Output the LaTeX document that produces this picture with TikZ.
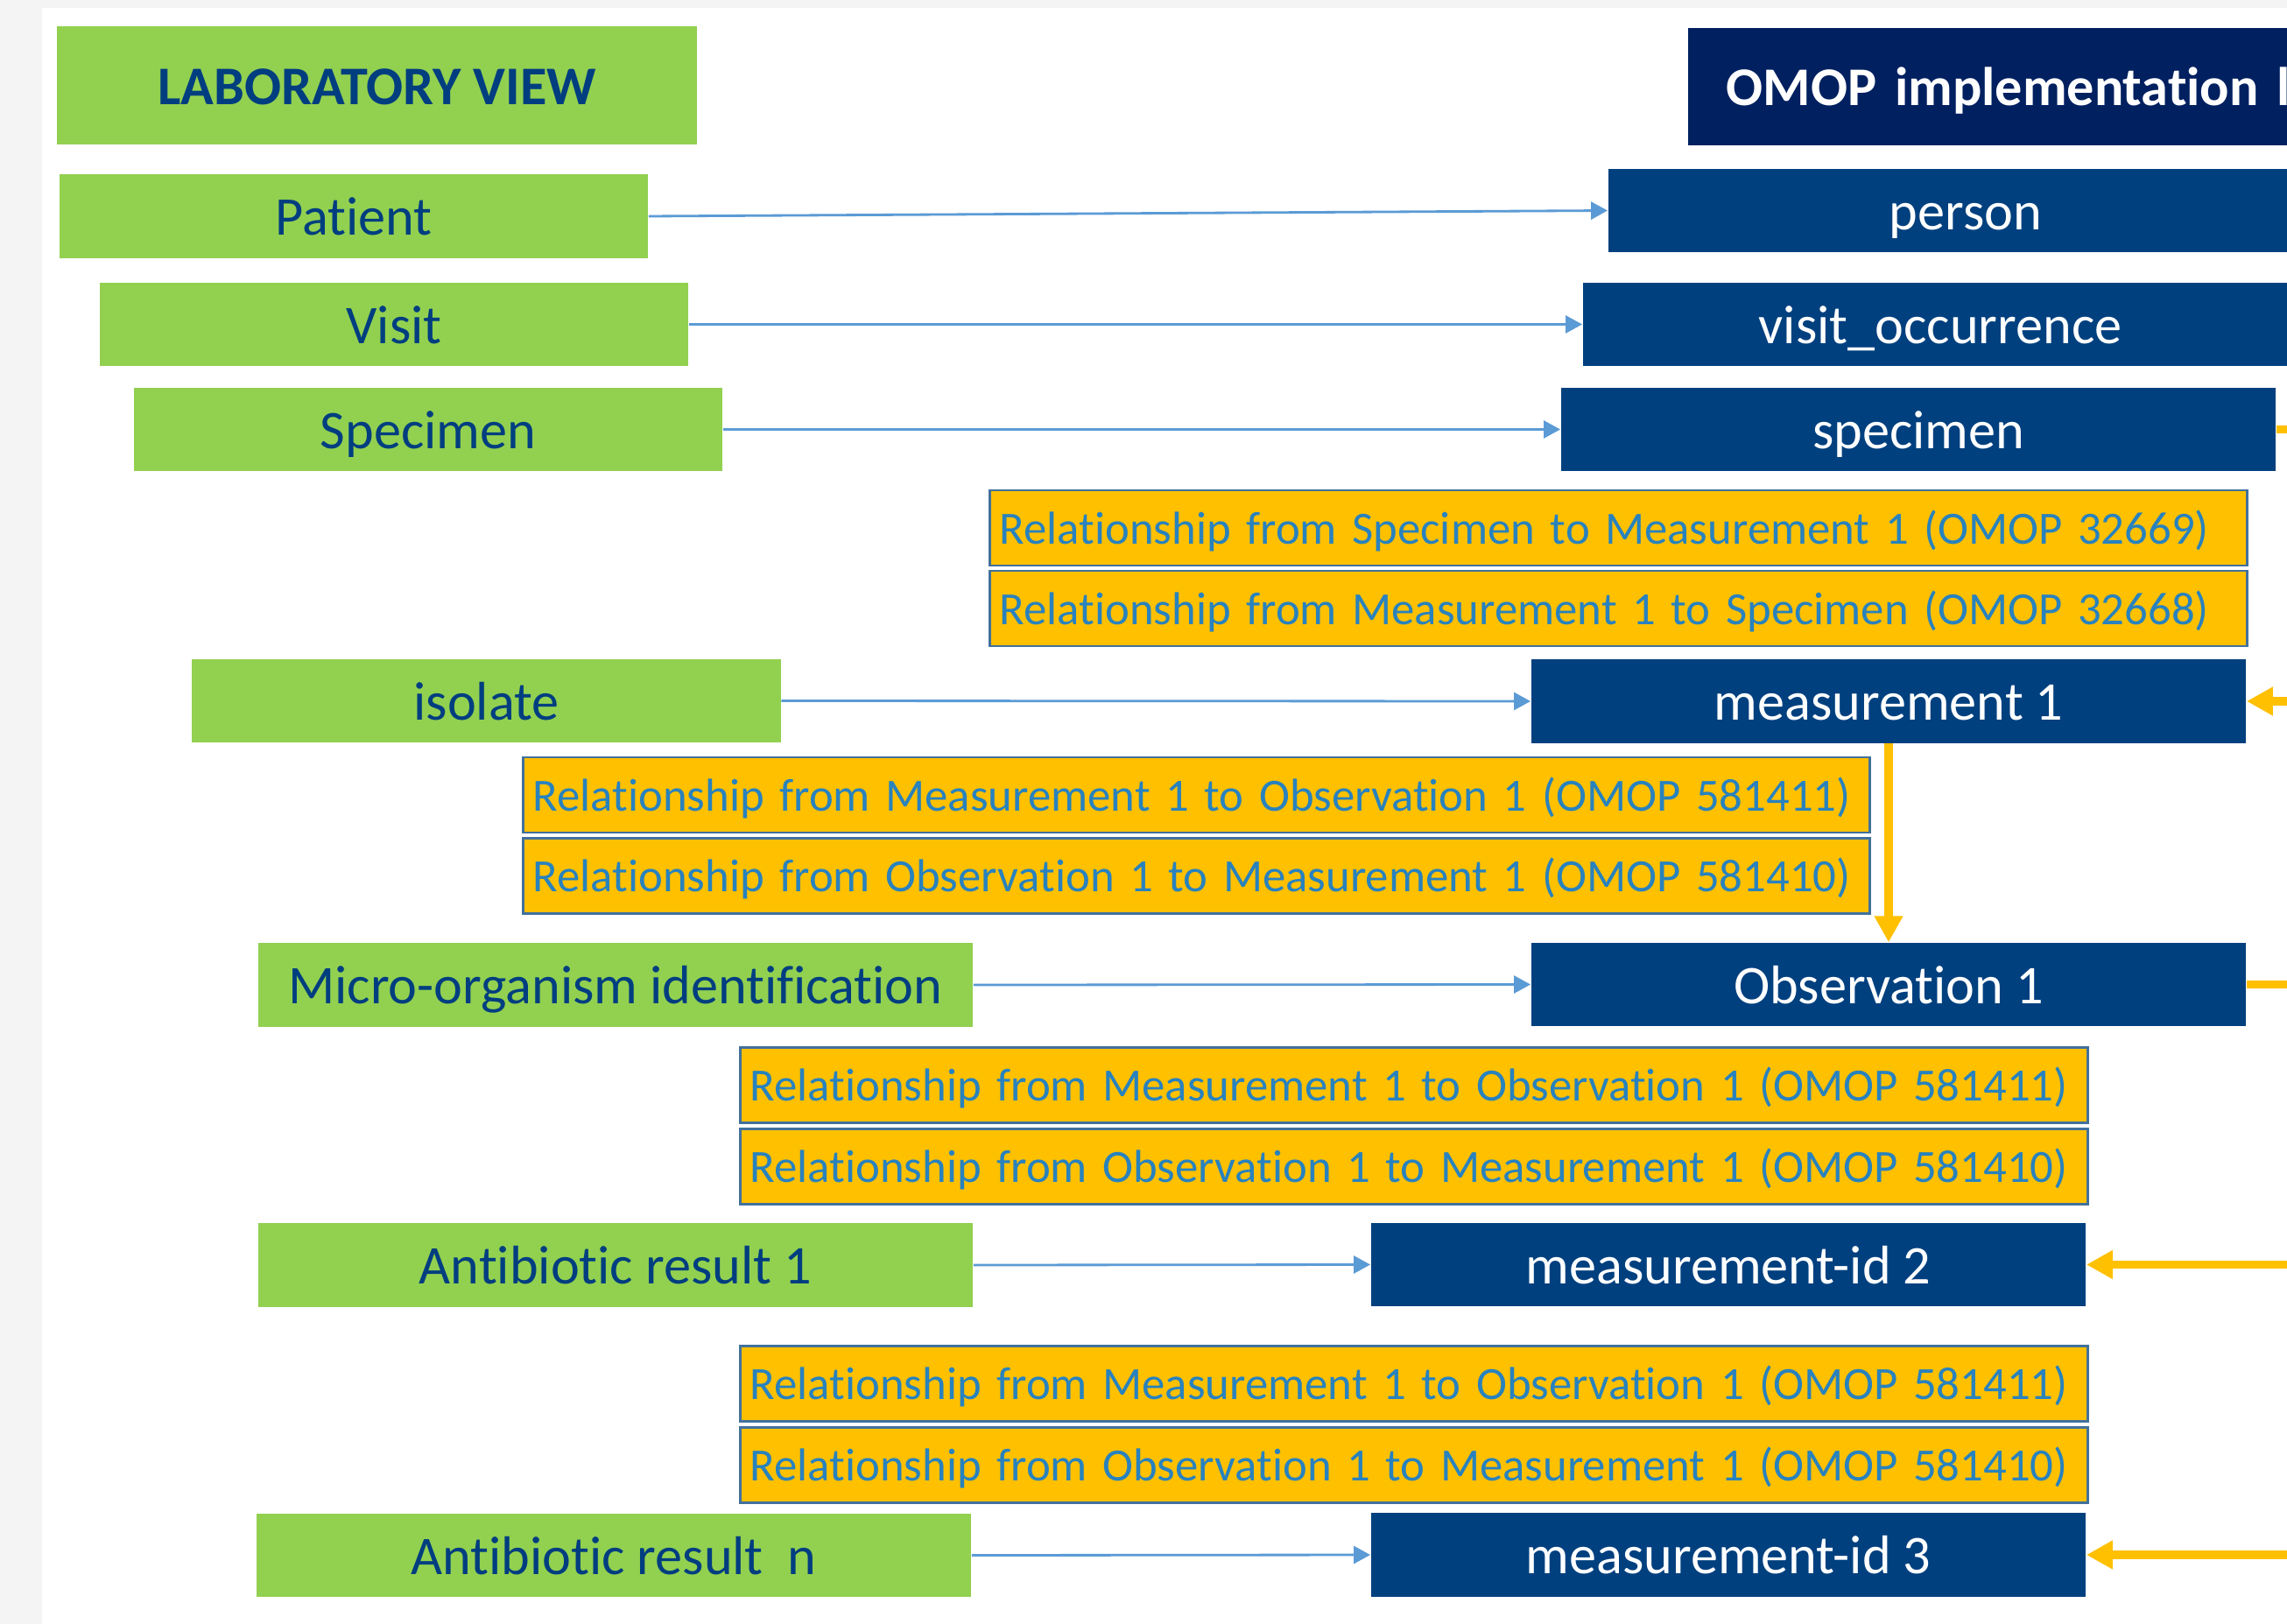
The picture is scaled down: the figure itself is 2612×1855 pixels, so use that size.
\documentclass[tikz,border=0pt]{standalone}
\usepackage{fontspec}
\setmainfont{Carlito}[Ligatures=NoCommon]
\usetikzlibrary{arrows.meta}

\definecolor{labgreen}{HTML}{92D050}
\definecolor{labtext}{HTML}{003E80}
\definecolor{omopblue}{HTML}{00407F}
\definecolor{omopnavy}{HTML}{002060}
\definecolor{relyellow}{HTML}{FFC000}
\definecolor{relborder}{HTML}{41719C}
\definecolor{reltext}{HTML}{2882BE}
\definecolor{mapblue}{HTML}{5B9BD5}
\definecolor{pagegray}{HTML}{F4F4F4}

\tikzset{
    bigfont/.style={font=\fontsize{17.7}{20}\selectfont},
    labbox/.style={rectangle, fill=labgreen, text=labtext, inner sep=0pt,
        minimum width=67.2mm, minimum height=9.5mm, text height=4.3mm,
        text depth=0pt, bigfont},
    omopbox/.style={rectangle, fill=omopblue, text=white, inner sep=0pt,
        minimum width=81.6mm, minimum height=9.5mm, text height=4.3mm,
        text depth=0pt, bigfont},
    relbox/.style={rectangle, fill=relyellow, draw=relborder, line width=0.8pt,
        text=reltext, inner xsep=1.1mm, inner ysep=0pt, minimum height=8.6mm,
        text height=3.6mm, text depth=0pt, align=left,
        font=\fontsize{15}{18}\selectfont},
    maparrow/.style={draw=mapblue, line width=0.8pt,
        -{Triangle[length=1.9mm, width=2mm]}},
    relarrow/.style={draw=relyellow, line width=2.7pt,
        -{Triangle[length=3mm, width=3.1mm]}},
    relline/.style={draw=relyellow, line width=2.7pt},
}

\begin{document}
\begin{tikzpicture}[x=0.01cm, y=-0.01cm]
    \pgfmathsetmacro\wide{81.6};
    \pgfmathsetmacro\offright{2700};

    \useasboundingbox (0,0) rectangle (2612,1855);
    \clip (0,0) rectangle (2612,1855);
    \fill[pagegray] (0,0) rectangle (2612,1855);
    \fill[white] (48,9) rectangle (2612,1855);

    \node[labbox, minimum width=73.1mm, minimum height=13.5mm,
        font=\bfseries\fontsize{17.7}{20}\selectfont] (lab) at (430.5,97.5) {LABORATORY VIEW};
    \node[labbox] (patient) at (404,247) {Patient};
    \node[labbox] (visit) at (450,370.5) {Visit};
    \node[labbox] (labspecimen) at (489,490.5) {Specimen};
    \node[labbox] (isolate) at (555.5,800.5) {isolate};
    \node[labbox, minimum width=\wide mm] (microid) at (703,1125) {Micro-organism identification};
    \node[labbox, minimum width=\wide mm] (abres1) at (703,1445) {Antibiotic result 1};
    \node[labbox, minimum width=\wide mm] (abresn) at (701,1776.5) {Antibiotic result~~n};

    \node[omopbox, fill=omopnavy, anchor=west, minimum height=13.4mm,
        inner xsep=4.4mm, text width=80mm, align=left,
        font=\bfseries\fontsize{17.7}{20}\selectfont] (omop) at (1927,99) {OMOP implementation l};
    \node[omopbox] (person) at (2245,240.5) {person};
    \node[omopbox] (visitocc) at (2216,370.5) {visit\_occurrence};
    \node[omopbox] (specimen) at (2191,490.5) {specimen};
    \node[omopbox] (meas1) at (2157,801) {measurement 1};
    \node[omopbox] (obs1) at (2157,1124.5) {Observation 1};
    \node[omopbox] (measid2) at (1974,1444.5) {measurement-id 2};
    \node[omopbox] (measid3) at (1974,1776) {measurement-id 3};

    \node[relbox, text width=141.3mm] (rel1) at (1848.5,603)
        {Relationship from Specimen to Measurement 1 (OMOP 32669)};
    \node[relbox, text width=141.3mm] (rel2) at (1848.5,695)
        {Relationship from Measurement 1 to Specimen (OMOP 32668)};
    \node[relbox, text width=151.5mm] (rel3) at (1366.5,908)
        {Relationship from Measurement 1 to Observation 1 (OMOP 581411)};
    \node[relbox, text width=151.5mm] (rel4) at (1366.5,1000.5)
        {Relationship from Observation 1 to Measurement 1 (OMOP 581410)};
    \node[relbox, text width=151.6mm] (rel5) at (1615,1239.5)
        {Relationship from Measurement 1 to Observation 1 (OMOP 581411)};
    \node[relbox, text width=151.6mm] (rel6) at (1615,1332.5)
        {Relationship from Observation 1 to Measurement 1 (OMOP 581410)};
    \node[relbox, text width=151.6mm] (rel7) at (1615,1580.5)
        {Relationship from Measurement 1 to Observation 1 (OMOP 581411)};
    \node[relbox, text width=151.6mm] (rel8) at (1615,1673.5)
        {Relationship from Observation 1 to Measurement 1 (OMOP 581410)};

    \foreach \src/\dst in {patient/person, visit/visitocc, labspecimen/specimen,
        isolate/meas1, microid/obs1, abres1/measid2, abresn/measid3}
        \draw[maparrow] (\src.east) -- (\dst.west);

    \coordinate (specout) at (\offright,490.5);
    \coordinate (meas1in) at (\offright,801);
    \coordinate (obs1out) at (\offright,1124.5);
    \coordinate (measid2in) at (\offright,1444.5);
    \coordinate (measid3in) at (\offright,1776);

    \draw[relarrow] (meas1.south) -- (obs1.north);
    \draw[relline] (specimen.east) -- (specout);
    \draw[relarrow] (meas1in) -- (meas1.east);
    \draw[relline] (obs1.east) -- (obs1out);
    \draw[relarrow] (measid2in) -- (measid2.east);
    \draw[relarrow] (measid3in) -- (measid3.east);
\end{tikzpicture}
\end{document}
